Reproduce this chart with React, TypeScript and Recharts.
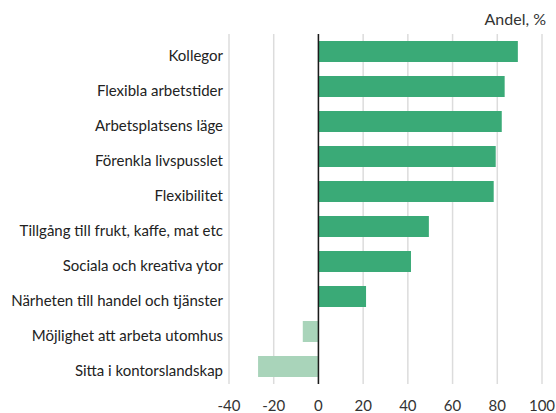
import { BarChart, Bar, XAxis, YAxis, CartesianGrid, ReferenceLine, Cell } from 'recharts';

// Faktorer som påverkar attraktiviteten, andel %
const categories = [
  'Kollegor',
  'Flexibla arbetstider',
  'Arbetsplatsens läge',
  'Förenkla livspusslet',
  'Flexibilitet',
  'Tillgång till frukt, kaffe, mat etc',
  'Sociala och kreativa ytor',
  'Närheten till handel och tjänster',
  'Möjlighet att arbeta utomhus',
  'Sitta i kontorslandskap',
];
const values = [89.2, 83.3, 82, 79.3, 78.4, 49.4, 41.4, 21.3, -7, -27];
const xTicks = [-40, -20, 0, 20, 40, 60, 80, 100];

const POS = '#3aaa77';
const NEG = '#a9d4ba';

export default function App() {
  const data = categories.map((name, i) => ({ name, value: values[i] }));

  return (
    <div style={{ position: 'absolute', left: 0, top: 0, width: 556, height: 413, fontFamily: 'Lato, sans-serif' }}>
      <div style={{ position: 'absolute', right: 10, top: 9, fontSize: 16, color: '#333' }}>Andel, %</div>
      <BarChart
        width={556}
        height={413}
        layout="vertical"
        data={data}
        margin={{ top: 34, right: 14, left: 0, bottom: 0 }}
        barSize={21}
      >
        <CartesianGrid horizontal={false} stroke="#dcdcdc" strokeWidth={1.5} />
        <XAxis
          type="number"
          domain={[-40, 100]}
          ticks={xTicks}
          axisLine={false}
          tickLine={false}
          tickSize={0}
          tickMargin={16}
          height={29}
          tick={{ fontSize: 15, fill: '#333' }}
        />
        <YAxis
          type="category"
          dataKey="name"
          width={229}
          axisLine={false}
          tickLine={false}
          tickSize={0}
          tickMargin={6}
          interval={0}
          tick={{ fontSize: 15, fill: '#222', dy: 4 }}
        />
        <Bar dataKey="value" isAnimationActive={false}>
          {data.map((d, i) => (
            <Cell key={`c-${i}`} fill={d.value < 0 ? NEG : POS} />
          ))}
        </Bar>
        <ReferenceLine x={0} stroke="#1a1a1a" strokeWidth={1.5} />
      </BarChart>
    </div>
  );
}
